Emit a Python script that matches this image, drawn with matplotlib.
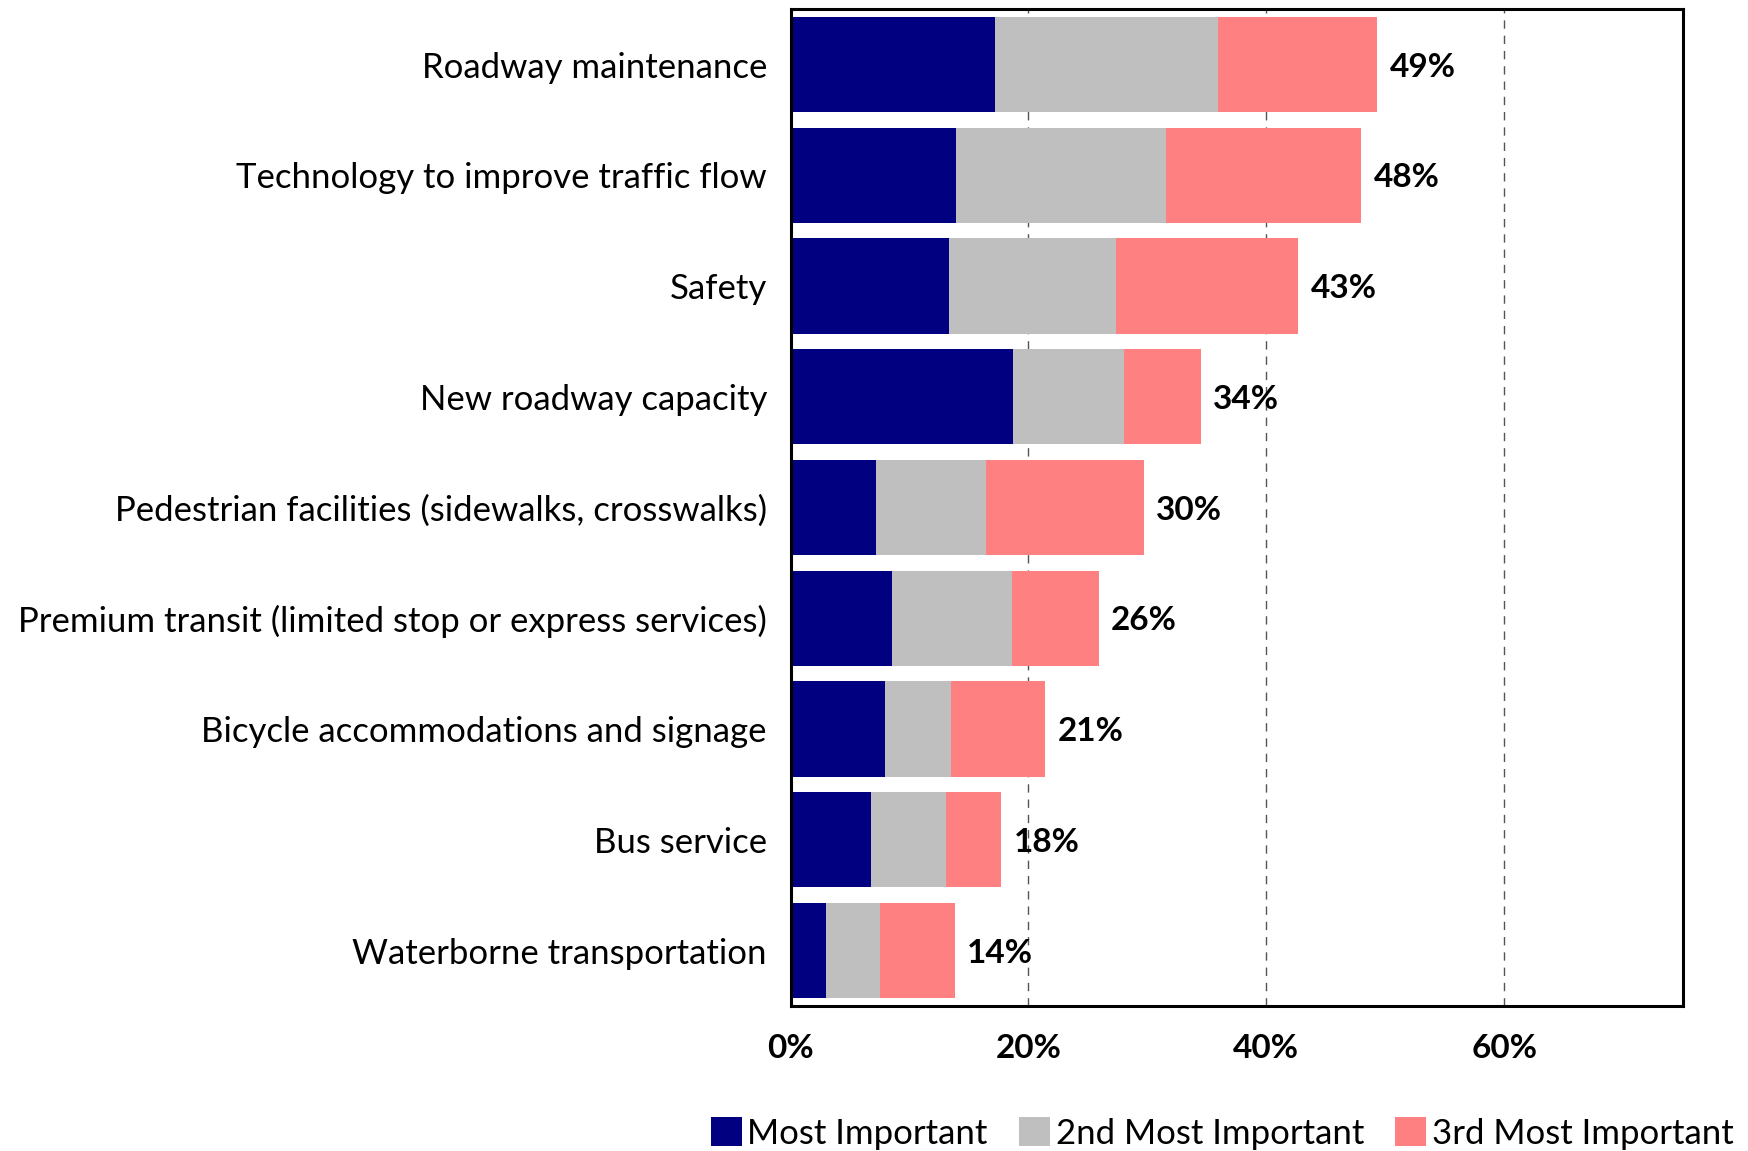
import numpy as np
import matplotlib.pyplot as plt
from matplotlib.ticker import FuncFormatter

categories = [
    'Roadway maintenance',
    'Technology to improve traffic flow',
    'Safety',
    'New roadway capacity',
    'Pedestrian facilities (sidewalks, crosswalks)',
    'Premium transit (limited stop or express services)',
    'Bicycle accommodations and signage',
    'Bus service',
    'Waterborne transportation',
]
most = [17.2, 13.9, 13.3, 18.7, 7.2, 8.5, 7.9, 6.8, 3.0]
second = [18.7, 17.7, 14.1, 9.3, 9.2, 10.1, 5.6, 6.3, 4.5]
third = [13.4, 16.4, 15.3, 6.5, 13.3, 7.3, 7.9, 4.6, 6.3]
totals = [49, 48, 43, 34, 30, 26, 21, 18, 14]
series_names = ['Most Important', '2nd Most Important', '3rd Most Important']
colors = ['#000080', '#bfbfbf', '#ff8080']

plt.rcParams['font.family'] = ['Lato', 'DejaVu Sans']

fig = plt.figure(figsize=(17.49, 11.51), dpi=100)
ax = fig.add_axes([0.452, 0.126, 0.510, 0.866])

y = np.arange(len(categories))
left = np.zeros(len(categories))
for vals, name, c in zip([most, second, third], series_names, colors):
    ax.barh(y, vals, left=left, height=0.86, color=c, label=name, zorder=2)
    left += np.array(vals)

for yi, end, t in zip(y, left, totals):
    ax.annotate(f'{t}%', (end, yi), xytext=(9, 0), textcoords='offset points',
                va='center_baseline', ha='left', fontsize=24, fontweight='bold')

ax.set_xlim(0, 75)
ax.set_ylim(len(categories) - 0.5, -0.5)
ax.set_yticks(y)
ax.set_yticklabels(categories, fontsize=25)
ax.set_xticks([0, 20, 40, 60])
ax.xaxis.set_major_formatter(FuncFormatter(lambda v, p: f'{v:.0f}%'))
for lab in ax.get_xticklabels():
    lab.set_fontweight('bold')
    lab.set_fontsize(24)
ax.tick_params(axis='both', length=0)
ax.tick_params(axis='y', pad=17)
ax.tick_params(axis='x', pad=20)
ax.xaxis.grid(True, linestyle=(0, (6, 5)), color='#555555', linewidth=1, zorder=1)
for s in ax.spines.values():
    s.set_linewidth(2.2)
    s.set_color('black')

fig.legend(loc='lower right', bbox_to_anchor=(1.003, -0.017), ncol=3, frameon=False,
           fontsize=25, handlelength=0.9, handleheight=0.9, handletextpad=0.15,
           columnspacing=0.9, borderaxespad=0.2)

fig.savefig('out.png', dpi=100)
